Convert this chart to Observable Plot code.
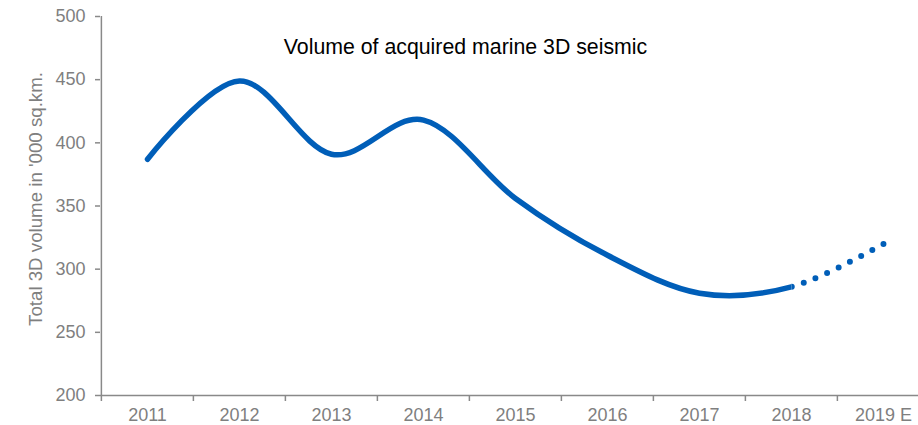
<!DOCTYPE html>
<html>
<head>
<meta charset="utf-8">
<script src="https://cdn.jsdelivr.net/npm/d3@7"></script>
<script src="https://cdn.jsdelivr.net/npm/@observablehq/plot@0.6"></script>
<style>
  html, body { margin: 0; padding: 0; background: #fff; }
  #chart svg { display: block; }
</style>
</head>
<body>
<div id="chart"></div>
<script>
// Survey years (the last one is an estimate) and acquired volume, '000 sq.km.
const years = ["2011", "2012", "2013", "2014", "2015", "2016", "2017", "2018", "2019 E"];
const volumes = [387, 449, 391, 418, 356, 311, 281, 286, 320];
const yTicks = [200, 250, 300, 350, 400, 450, 500];
const title = "Volume of acquired marine 3D seismic";
const yLabel = "Total 3D volume in '000 sq.km.";

const data = years.map((year, i) => ({year, volume: volumes[i]}));

const W = 918, H = 425;
const xRange = [100, 930];
const band = (xRange[1] - xRange[0]) / years.length;
const estimateDots = 8;

const axisGrey = "#898989";
const textGrey = "#7f7f7f";
const blue = "#005eb8";
const font = "'Liberation Sans', Arial, Helvetica, sans-serif";

const chart = Plot.plot({
  width: W,
  height: H,
  marginLeft: 100,
  marginRight: 0,
  marginTop: 16,
  marginBottom: 30,
  style: {fontFamily: font, fontSize: "18px", background: "#fff", color: textGrey},
  x: {type: "band", domain: years, range: xRange, padding: 0},
  y: {domain: [200, 500]},
  marks: [
    // value axis
    Plot.ruleX([years[0]], {y1: 200, y2: 500, dx: -band / 2, stroke: axisGrey, strokeWidth: 1.5}),
    Plot.axisY({ticks: yTicks, tickSize: 5, tickPadding: 10, stroke: axisGrey, strokeWidth: 1.5,
                fill: textGrey, label: null}),
    Plot.text([yLabel], {frameAnchor: "left", rotate: -90, dx: -64, dy: -7,
                         textAnchor: "middle", lineAnchor: "middle", fill: textGrey, fontSize: 18.7}),
    // category axis: ticks sit on band boundaries, labels in band centres
    Plot.ruleY([200], {stroke: axisGrey, strokeWidth: 1.5}),
    Plot.axisX({tickSize: 6, tickFormat: () => "", stroke: axisGrey, strokeWidth: 1.5,
                dx: -band / 2, label: null}),
    Plot.axisX({tickSize: 0, tickPadding: 13, fill: textGrey, label: null}),
    // series: solid for reported years, dotted for the estimate
    Plot.line(data, {x: "year", y: "volume", curve: "cardinal", tension: 0,
                     stroke: blue, strokeWidth: 5.5, strokeLinecap: "round", strokeLinejoin: "round"}),
    Plot.line(data, {x: "year", y: "volume", curve: "cardinal", tension: 0,
                     stroke: blue, strokeWidth: 6, strokeLinecap: "round",
                     strokeDasharray: "0 12"}),
    // title
    Plot.text([title], {frameAnchor: "top", dx: -44, dy: 22, lineAnchor: "top",
                        fill: "#000", fontSize: 21.3})
  ]
});

document.getElementById("chart").appendChild(chart);

// Split the smoothed series at the last reported year.
const xs = chart.scale("x");
const cutX = xs.apply(years[years.length - 2]);
const svg = d3.select(chart);
const defs = svg.insert("defs", ":first-child");
defs.append("clipPath").attr("id", "clip-reported")
  .append("rect").attr("x", -W).attr("y", -H).attr("width", W + cutX).attr("height", 3 * H);
defs.append("clipPath").attr("id", "clip-estimate")
  .append("rect").attr("x", cutX).attr("y", -H).attr("width", 2 * W).attr("height", 3 * H);

const lines = svg.selectAll('g[aria-label="line"]').nodes();
if (lines.length === 2) {
  d3.select(lines[0]).select("path").attr("clip-path", "url(#clip-reported)");
  const est = d3.select(lines[1]).select("path").attr("clip-path", "url(#clip-estimate)").node();
  const total = est.getTotalLength();
  let lo = 0, hi = total;
  for (let i = 0; i < 40; i++) {
    const mid = (lo + hi) / 2;
    if (est.getPointAtLength(mid).x < cutX) lo = mid; else hi = mid;
  }
  // evenly spaced dots from the last reported year to the estimate, ending just short of the path end
  const gap = (total - lo - 0.5) / estimateDots;
  est.setAttribute("stroke-dasharray", `0 ${gap}`);
  est.setAttribute("stroke-dashoffset", `${-lo}`);
}
</script>
</body>
</html>
